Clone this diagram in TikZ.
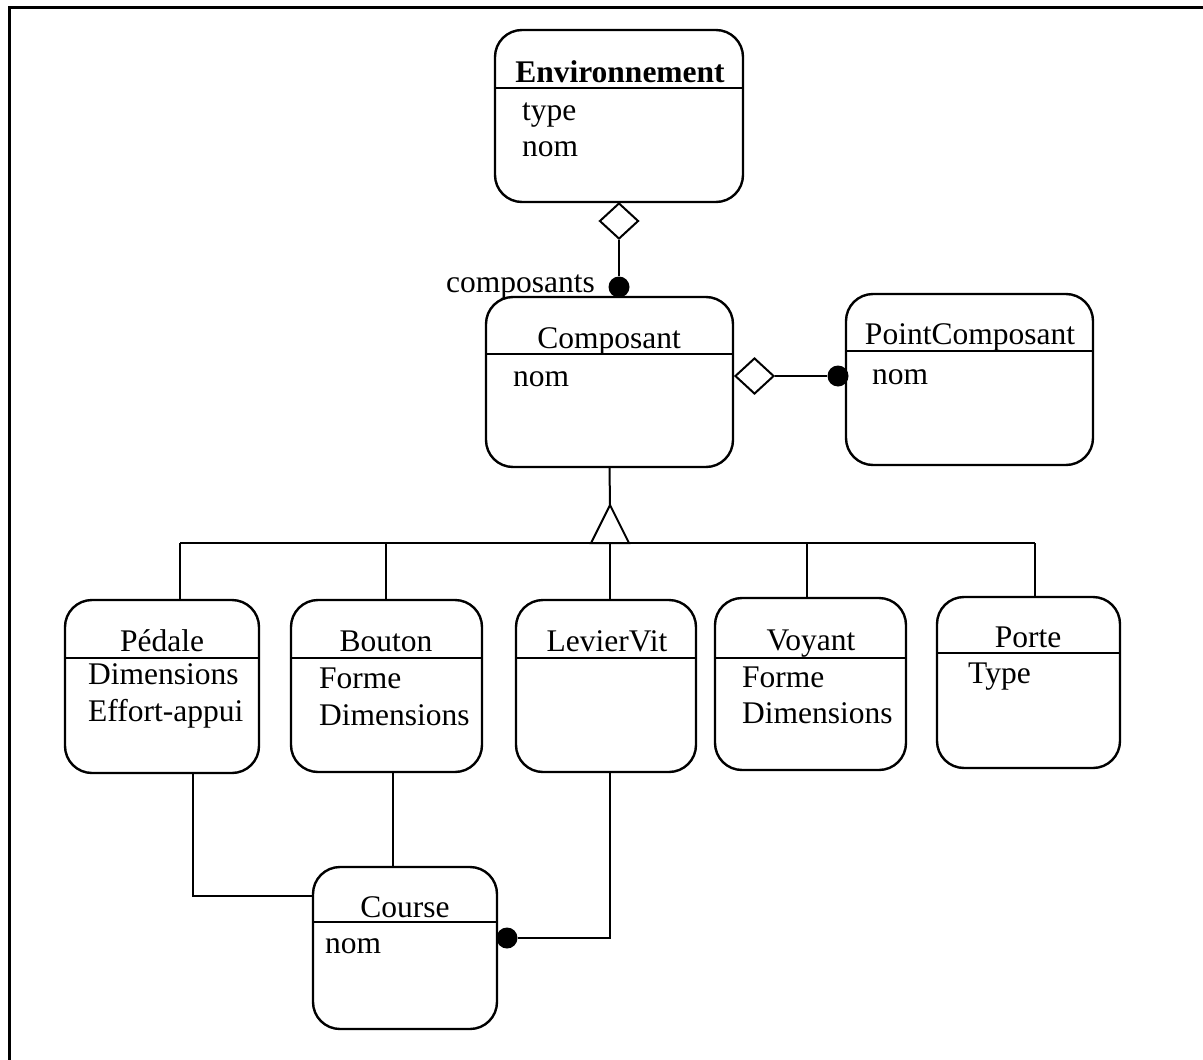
\documentclass[tikz,border=0pt]{standalone}
\usepackage{fontspec}
\setmainfont{Liberation Serif}
\usetikzlibrary{shapes.geometric}
\begin{document}
\begin{tikzpicture}[x=1pt,y=-1pt,
  cls/.style={draw, line width=2.4pt, rounded corners=27pt, inner sep=0pt, outer sep=0pt, anchor=north west},
  sepline/.style={line width=2.2pt},
  conn/.style={line width=2pt},
  ttl/.style={font=\fontsize{31.5}{36}\selectfont, anchor=base, inner sep=0pt},
  att/.style={font=\fontsize{31.5}{36}\selectfont, anchor=base west, inner sep=0pt},
  agg/.style={diamond, draw, fill=white, line width=2pt, inner sep=0pt, minimum width=39pt, minimum height=36pt},
  blob/.style={circle, fill=black, inner sep=0pt, minimum size=21pt},
]
\useasboundingbox (0,0) rectangle (1203,1060);
% outer frame (top and left only)
\draw[line width=3pt] (9,1060) -- (9,7) -- (1203,7);

% Environnement
\node[cls, minimum width=248pt, minimum height=172pt] (env) at (495,30) {};
\draw[sepline] (495,88) -- (743,88);
\node[ttl, font=\fontsize{31.5}{36}\selectfont\bfseries] (envt) at (620,82) {Environnement};
\node[att] (enva1) at (522,120) {type};
\node[att] (enva2) at (522,156) {nom};

% Composant
\node[cls, minimum width=247pt, minimum height=170pt] (comp) at (486,297) {};
\draw[sepline] (486,354) -- (733,354);
\node[ttl] (compt) at (609,348) {Composant};
\node[att] (compa1) at (513,386) {nom};

% PointComposant
\node[cls, minimum width=247pt, minimum height=171pt] (pc) at (846,294) {};
\draw[sepline] (846,351) -- (1093,351);
\node[ttl] (pct) at (970,344) {PointComposant};
\node[att] (pca1) at (872,384) {nom};

% Pedale
\node[cls, minimum width=194pt, minimum height=173pt] (ped) at (65,600) {};
\draw[sepline] (65,658) -- (259,658);
\node[ttl] (pedt) at (162,651) {Pédale};
\node[att] (peda1) at (88,684) {Dimensions};
\node[att] (peda2) at (88,721) {Effort-appui};

% Bouton
\node[cls, minimum width=191pt, minimum height=172pt] (bou) at (291,600) {};
\draw[sepline] (291,658) -- (482,658);
\node[ttl] (bout) at (386,651) {Bouton};
\node[att] (boua1) at (319,688) {Forme};
\node[att] (boua2) at (319,725) {Dimensions};

% LevierVit
\node[cls, minimum width=180pt, minimum height=172pt] (lev) at (516,600) {};
\draw[sepline] (516,658) -- (696,658);
\node[ttl] (levt) at (607,651) {LevierVit};

% Voyant
\node[cls, minimum width=191pt, minimum height=172pt] (voy) at (715,598) {};
\draw[sepline] (715,658) -- (906,658);
\node[ttl] (voyt) at (811,650) {Voyant};
\node[att] (voya1) at (742,687) {Forme};
\node[att] (voya2) at (742,723) {Dimensions};

% Porte
\node[cls, minimum width=183pt, minimum height=171pt] (por) at (937,597) {};
\draw[sepline] (937,653) -- (1120,653);
\node[ttl] (port) at (1028,647) {Porte};
\node[att] (pora1) at (968,683) {Type};

% Course
\node[cls, minimum width=184pt, minimum height=162pt] (cou) at (313,867) {};
\draw[sepline] (313,922) -- (497,922);
\node[ttl] (cout) at (405,917) {Course};
\node[att] (coua1) at (325,953) {nom};

% Aggregation Environnement - Composant
\node[agg, anchor=north] (d1) at (619,202) {};
\node[blob] (k1) at (619,287) {};
\draw[conn] (d1.south) -- (k1.north);
\node[att, anchor=base east] (lab1) at (595,292) {composants};

% Aggregation Composant - PointComposant
\node[agg, anchor=west] (d2) at (734,376) {};
\node[blob] (k2) at (838,376) {};
\draw[conn] (d2.east) -- (k2.west);

% Inheritance
\coordinate (apex) at (610,505);
\draw[conn] (comp.south) -- (apex);
\draw[conn] (180,543) -- (1035,543);
\draw[conn, fill=white] (apex) -- ++(-19,38) -- ++(38,0) -- cycle;
\coordinate (b1) at (180,543);
\coordinate (b2) at (386,543);
\coordinate (b3) at (610,543);
\coordinate (b4) at (807,543);
\coordinate (b5) at (1035,543);
\draw[conn] (b1) -- (b1 |- ped.north);
\draw[conn] (b2) -- (b2 |- bou.north);
\draw[conn] (b3) -- (b3 |- lev.north);
\draw[conn] (b4) -- (b4 |- voy.north);
\draw[conn] (b5) -- (b5 |- por.north);

% Associations to Course
\coordinate (pl) at (193,896);
\draw[conn] (pl |- ped.south) -- (pl) -- (pl -| cou.west);
\coordinate (bl) at (393,896);
\draw[conn] (bl |- bou.south) -- (bl |- cou.north);
\node[blob] (k3) at (507,938) {};
\coordinate (ll) at (610,938);
\draw[conn] (ll |- lev.south) -- (ll) -- (k3.east);
\end{tikzpicture}
\end{document}
